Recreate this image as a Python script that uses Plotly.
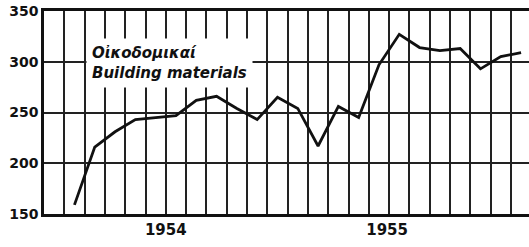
import plotly.graph_objects as go

# month index (0 = Jan 1954) and index values
months = list(range(1, 24))
values = [159, 216, 231, 243, 245, 247, 262, 266, 254, 243, 265, 254,
          217, 256, 245, 297, 327, 314, 311, 313, 293, 305, 309]
year_ticks = [5.5, 16.4]
year_labels = ["1954", "1955"]
y_ticks = [150, 200, 250, 300, 350]
label_text = "Οἰκοδομικαί<br>Building materials"

fig = go.Figure()
fig.add_trace(go.Scatter(x=months, y=values, mode="lines",
                         line=dict(color="#111111", width=2.8),
                         hoverinfo="skip", showlegend=False))

fig.add_annotation(x=0.087, y=0.865, xref="paper", yref="paper",
                   xanchor="left", yanchor="top", align="left",
                   text=label_text, showarrow=False,
                   font=dict(family="DejaVu Sans", size=15, color="#111111",
                             style="italic", weight="bold"),
                   bgcolor="white", borderpad=5)

fig.update_layout(
    width=529, height=247,
    margin=dict(l=44, r=0, t=11, b=33),
    paper_bgcolor="white", plot_bgcolor="white",
    hovermode=False,
    xaxis=dict(range=[-0.5, 23.39], tickvals=year_ticks, ticktext=year_labels,
               showgrid=False, zeroline=False, ticks="", automargin=False,
               showline=True, mirror=True, linecolor="#111111", linewidth=2.5,
               tickfont=dict(family="DejaVu Sans", size=15, color="#111111",
                             weight="bold"),
               minor=dict(tick0=-0.5, dtick=1, showgrid=True,
                          gridcolor="#222222", gridwidth=1.5, ticks="")),
    yaxis=dict(range=[150, 350], tickvals=y_ticks,
               ticktext=[str(v) for v in y_ticks],
               showgrid=True, gridcolor="#222222", gridwidth=1.5,
               zeroline=False, ticks="", automargin=False,
               showline=True, linecolor="#111111", linewidth=2.5,
               tickfont=dict(family="DejaVu Sans", size=14, color="#111111",
                             weight="bold")),
)

fig.write_html("out.html", config={"displayModeBar": False},
               post_script="document.body.style.margin='0';document.body.style.padding='0';")
